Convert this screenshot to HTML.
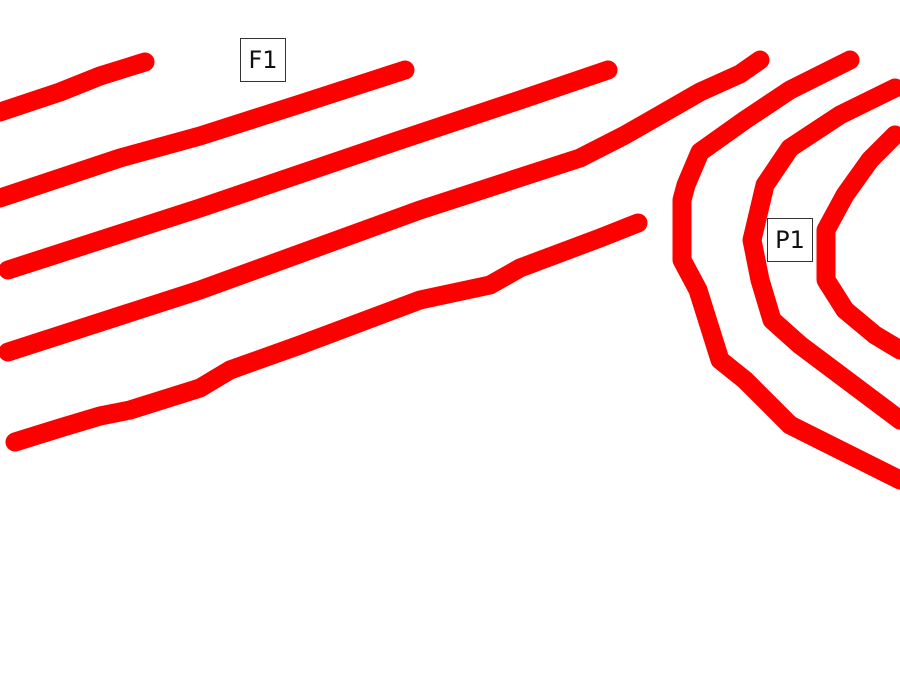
<!DOCTYPE html>
<html><head><style>html,body{margin:0;padding:0;background:#fff;width:900px;height:675px;overflow:hidden}
.l{position:absolute;border:1px solid #333;background:#fff;font-family:"DejaVu Sans","Liberation Sans",sans-serif;font-size:24px;color:#111;text-align:center;line-height:42px;width:44px;height:42px}</style></head>
<body>
<svg width="900" height="675" style="position:absolute;left:0;top:0">
<g fill="none" stroke="#ff0000" stroke-width="19" stroke-linecap="round" stroke-linejoin="round">
<polyline points="0,112 60,92 100,76 145,62"/>
<polyline points="0,198 120,158 200,136 300,104 405,70"/>
<polyline points="8,270 200,208 400,140 520,100 608,70"/>
<polyline points="8,352 200,290 420,210 580,158 625,135 660,115 700,92 740,74 760,60"/>
<polyline points="15,442 60,428 100,416 130,410 200,388 230,370 300,345 420,300 490,285 520,268 600,238 638,223"/>
<polyline points="850,60 790,90 745,120 700,152 686,185 682,200 682,260 698,290 720,360 745,380 790,425 900,480"/>
<polyline points="895,88 840,115 790,148 765,185 752,240 760,280 772,320 800,345 840,375 900,420"/>
<polyline points="895,135 870,160 845,195 826,230 826,280 845,310 875,335 900,350"/>
</g></svg>
<div class="l" style="left:240px;top:38px">F1</div>
<div class="l" style="left:767px;top:218px">P1</div>
</body></html>
